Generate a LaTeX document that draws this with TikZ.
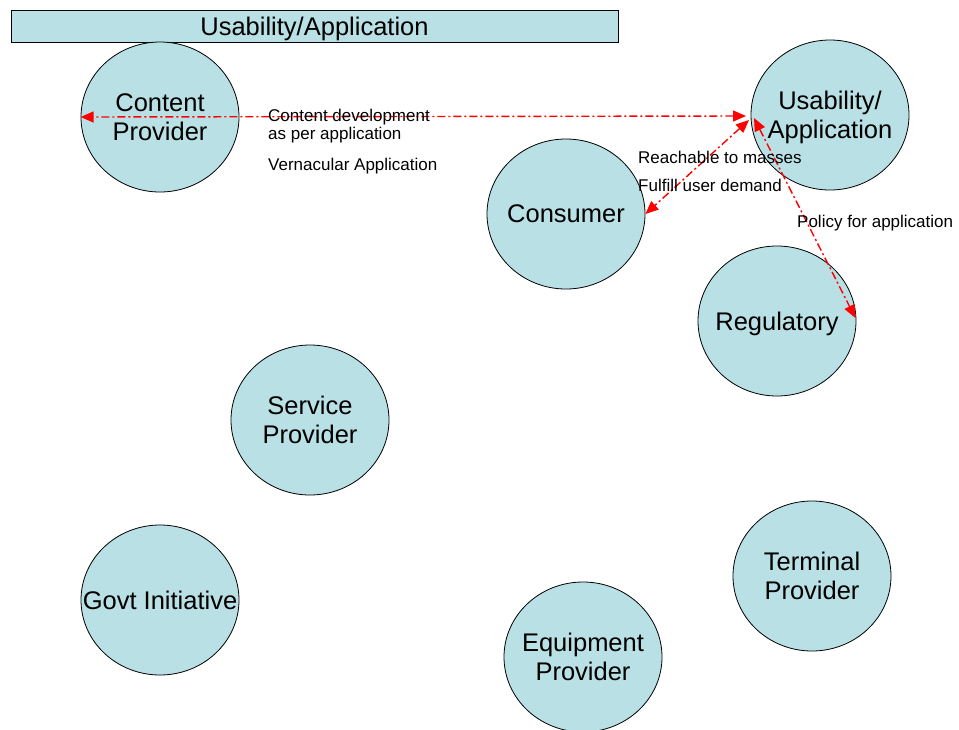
\documentclass[tikz,border=0pt]{standalone}
\usepackage{fontspec}
\setmainfont{Liberation Sans}
\usetikzlibrary{shapes.geometric,arrows.meta}
\definecolor{bubble}{RGB}{185,224,228}
\tikzset{
  bub/.style 2 args={ellipse, draw=black, line width=0.8pt, fill=bubble, minimum width=158pt, minimum height=150pt, inner sep=0pt,
    label={[align=center, inner sep=0pt, text depth=0pt, font=\fontsize{25.5}{29}\selectfont]center:{#2}}},
  link/.style={red, line width=1.4pt, dash pattern=on 8pt off 3pt on 2pt off 3pt, {Triangle[length=13pt,width=11pt]}-{Triangle[length=13pt,width=11pt]}},
  lbl/.style={inner sep=0pt, anchor=base west, font=\fontsize{17}{17.5}\selectfont}
}
\begin{document}
\begin{tikzpicture}[x=1pt,y=-1pt]
\useasboundingbox (0,0) rectangle (959,729);
\node[draw=black, line width=0.8pt, fill=bubble, minimum width=607pt, minimum height=32pt, inner sep=0pt, text depth=0pt, font=\fontsize{25.5}{29}\selectfont] (title) at (314.5,26) {Usability/Application};
\node[bub={}{Content\\Provider}] (cp) at (160,117) {};
\node[bub={}{Usability/\\Application}] (ua) at (830,115) {};
\node[bub={}{Consumer}] (cons) at (566,214) {};
\node[bub={}{Regulatory}] (reg) at (777,321) {};
\node[bub={}{Service\\Provider}] (sp) at (310,420) {};
\node[bub={}{Govt Initiative}] (gov) at (160,600) {};
\node[bub={}{Equipment\\Provider}] (eq) at (583,657) {};
\node[bub={}{Terminal\\Provider}] (tp) at (812,576) {};
\coordinate (uaa) at (746,116);
\coordinate (uab) at (749,120);
\coordinate (uac) at (754,118);
\draw[link] (uaa) -- (cp.west);
\draw[link] (uab) -- (cons.east);
\draw[link] (uac) -- ([shift={(-1,-3)}]reg.east);
\node[lbl, align=left] (l1) at (268,139) {Content development\\as per application};
\node[lbl] (l2) at (268,170) {Vernacular Application};
\node[lbl] (l3) at (638,163) {Reachable to masses};
\node[lbl] (l4) at (638,191) {Fulfill user demand};
\node[lbl] (l5) at (797,227) {Policy for application};
\end{tikzpicture}
\end{document}
